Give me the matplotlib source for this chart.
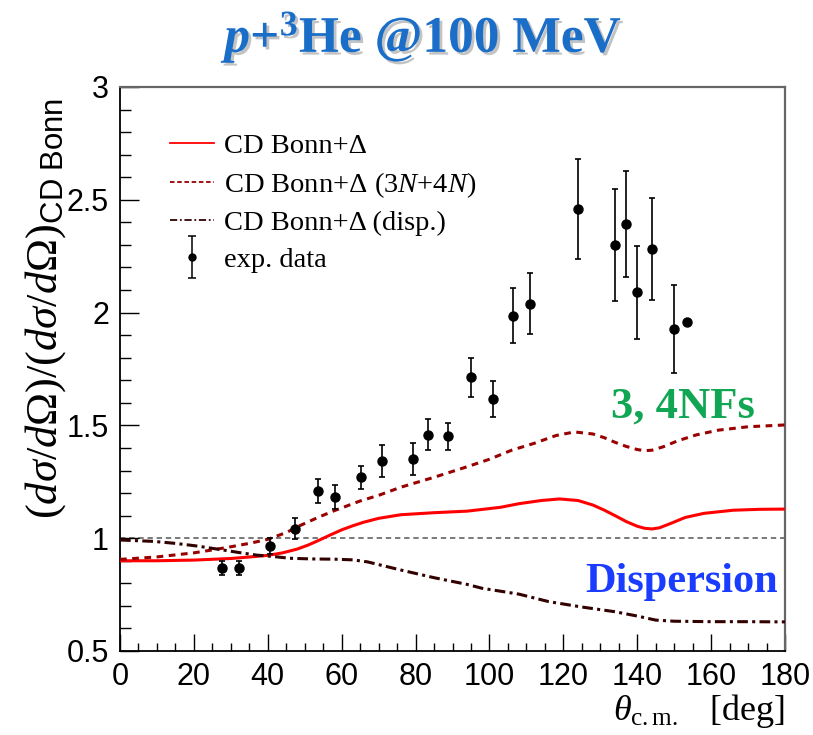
import matplotlib
matplotlib.use("Agg")
import matplotlib.pyplot as plt
from matplotlib.lines import Line2D
from matplotlib.ticker import MultipleLocator, FuncFormatter
import matplotlib.patheffects as pe
from matplotlib.legend_handler import HandlerErrorbar

plt.rcParams['mathtext.fontset'] = 'custom'
plt.rcParams['mathtext.rm'] = 'Liberation Serif'
plt.rcParams['mathtext.it'] = 'Liberation Serif:italic'
plt.rcParams['mathtext.bf'] = 'Liberation Serif:bold'
plt.rcParams['mathtext.bfit'] = 'Liberation Serif:italic:bold'
plt.rcParams['mathtext.sf'] = 'Liberation Sans'

# ---------------- data ----------------
theta_data = [27.6, 32.3, 40.6, 47.3, 53.5, 58.3, 65.3, 70.8, 79.2, 83.4, 88.8,
              94.9, 100.9, 106.4, 110.9, 124.0, 133.9, 136.9, 139.9, 144.0, 150.0, 153.5]
ratio_data = [0.868, 0.868, 0.965, 1.042, 1.209, 1.183, 1.270, 1.342, 1.351, 1.459, 1.452,
              1.713, 1.617, 1.986, 2.040, 2.459, 2.298, 2.394, 2.090, 2.283, 1.927, 1.957]
ratio_err = [0.033, 0.033, 0.035, 0.046, 0.052, 0.052, 0.050, 0.072, 0.073, 0.068, 0.060,
             0.085, 0.080, 0.121, 0.135, 0.222, 0.248, 0.234, 0.205, 0.226, 0.195, 0.0]

theta_cdb = [0, 10, 20, 30, 36, 40, 44, 48, 51, 54, 57, 60, 63, 66, 70, 76, 85, 94, 103,
             108, 114, 119, 124, 128, 131, 134, 137, 140, 142, 144, 146, 149, 153, 158,
             166, 173, 180]
ratio_cdb = [0.900, 0.900, 0.903, 0.910, 0.918, 0.924, 0.935, 0.952, 0.970, 0.992, 1.015,
             1.037, 1.055, 1.071, 1.088, 1.104, 1.113, 1.120, 1.137, 1.153, 1.167, 1.174,
             1.167, 1.147, 1.125, 1.100, 1.074, 1.053, 1.044, 1.041, 1.046, 1.065, 1.092,
             1.110, 1.124, 1.128, 1.129]

theta_34n = [0, 10, 20, 25, 30, 35, 40, 45, 49, 54, 58, 65, 70, 76, 85, 94, 100, 106,
             112, 118, 123, 128, 131, 134, 137, 140, 142, 144, 147, 151, 156, 162, 170, 180]
ratio_34n = [0.906, 0.917, 0.935, 0.948, 0.962, 0.977, 0.995, 1.025, 1.058, 1.095, 1.122,
             1.165, 1.190, 1.226, 1.270, 1.317, 1.350, 1.390, 1.420, 1.455, 1.471, 1.462,
             1.446, 1.425, 1.407, 1.393, 1.388, 1.390, 1.405, 1.432, 1.458, 1.479, 1.494, 1.502]

theta_disp = [0, 9, 15, 21, 27, 32, 37, 42, 46, 52, 58, 63, 67, 72, 76, 85, 94, 98, 103,
              108, 116, 125, 134, 140, 145, 150, 160, 170, 180]
ratio_disp = [0.992, 0.986, 0.977, 0.965, 0.950, 0.937, 0.925, 0.918, 0.911, 0.908, 0.907,
              0.904, 0.895, 0.875, 0.859, 0.825, 0.795, 0.778, 0.765, 0.752, 0.719, 0.695,
              0.674, 0.655, 0.637, 0.632, 0.630, 0.630, 0.629]

legend_labels = [r'CD Bonn+Δ', r'CD Bonn+Δ (3$N$+4$N$)', r'CD Bonn+Δ (disp.)', 'exp. data']

# ---------------- figure ----------------
W, H = 813, 735
fig = plt.figure(figsize=(W / 100, H / 100), dpi=100)
ax = fig.add_axes([120 / W, 1 - 651 / H, (785 - 120) / W, (651 - 87) / H])

c_cdb = '#ff0000'
c_34n = '#990000'
c_disp = '#330000'

ax.axhline(1.0, color='#555555', lw=1.1, ls=(0, (3.5, 2.5)), zorder=1)
ax.plot(theta_cdb, ratio_cdb, color=c_cdb, lw=2.2, zorder=3)
ax.plot(theta_34n, ratio_34n, color=c_34n, lw=2.2, ls=(0, (2.2, 1.8)), zorder=3)
ax.plot(theta_disp, ratio_disp, color=c_disp, lw=2.2, ls=(0, (3.5, 1.4, 1.0, 1.4)), zorder=3)
ax.errorbar(theta_data, ratio_data, yerr=ratio_err, fmt='o', color='black', ms=6.5,
            elinewidth=1.2, capsize=2.5, capthick=1.2, zorder=5)

ax.set_xlim(0, 180)
ax.set_ylim(0.5, 3)
ax.xaxis.set_major_locator(MultipleLocator(20))
ax.xaxis.set_minor_locator(MultipleLocator(5))
ax.yaxis.set_major_locator(MultipleLocator(0.5))
ax.yaxis.set_minor_locator(MultipleLocator(0.1))
ax.yaxis.set_major_formatter(FuncFormatter(lambda v, p: f'{v:g}'))

tick_font = 'Liberation Sans Narrow'
ax.tick_params(axis='both', which='both', direction='in', top=False, right=False, width=1.0)
ax.tick_params(axis='y', which='major', length=14, pad=8)
ax.tick_params(axis='y', which='minor', length=8)
ax.tick_params(axis='x', which='major', length=12, pad=8)
ax.tick_params(axis='x', which='minor', length=6)
for lab in ax.get_xticklabels() + ax.get_yticklabels():
    lab.set_fontfamily([tick_font, 'Liberation Sans'])
    lab.set_fontsize(22)

for s in ['left', 'bottom']:
    ax.spines[s].set_color('black')
    ax.spines[s].set_linewidth(1.3)
for s in ['top', 'right']:
    ax.spines[s].set_color('#666666')
    ax.spines[s].set_linewidth(1.6)

# axis labels
fig.text(46 / W, 1 - 309 / H,
         r'$(d\sigma/d\Omega)/(d\sigma/d\Omega)_{\mathsf{CD\ Bonn}}$',
         rotation=90, ha='center', va='center', fontsize=32)
fig.text(785 / W, 1 - 711 / H, r'$\theta_{\mathrm{c.m.}}$   [deg]',
         ha='right', va='center', fontsize=26, family='Liberation Serif')

# title
fig.text(425 / W, 1 - 38 / H, r'$\boldsymbol{p}$+$^{\mathbf{3}}$He @100 MeV',
         ha='center', va='center', fontsize=37, family='Liberation Serif',
         fontweight='bold', color='#1b6ec8',
         path_effects=[pe.withSimplePatchShadow(offset=(2, -2), shadow_rgbFace='#888888', alpha=0.5)])

# annotations
fig.text(683 / W, 1 - 407 / H, '3, 4NFs', ha='center', va='center', fontsize=32,
         family='Liberation Serif', fontweight='bold', color='#11a653')
fig.text(682 / W, 1 - 582 / H, 'Dispersion', ha='center', va='center', fontsize=30.5,
         family='Liberation Serif', fontweight='bold', color='#1a3cff')

# legend
h1 = Line2D([], [], color=c_cdb, lw=1.3)
h2 = Line2D([], [], color=c_34n, lw=1.3, ls=(0, (2.5, 1.5)))
h3 = Line2D([], [], color=c_disp, lw=1.3, ls=(0, (4, 1.5, 1, 1.5)))
h4 = ax.errorbar([float('nan')], [float('nan')], yerr=[1.0], fmt='o', color='black', ms=5,
                 elinewidth=1.1, capsize=3, capthick=1.1)
leg = fig.legend([h1, h2, h3, h4], legend_labels, loc='upper left',
                 bbox_to_anchor=(170 / W, 1 - 133 / H), frameon=False,
                 prop={'family': 'Liberation Serif', 'size': 20.5},
                 handlelength=1.55, handletextpad=0.35, labelspacing=0.38,
                 borderpad=0, borderaxespad=0,
                 handler_map={type(h4): HandlerErrorbar(xerr_size=0.3, yerr_size=0.75)})

fig.savefig('out.png', dpi=100)
